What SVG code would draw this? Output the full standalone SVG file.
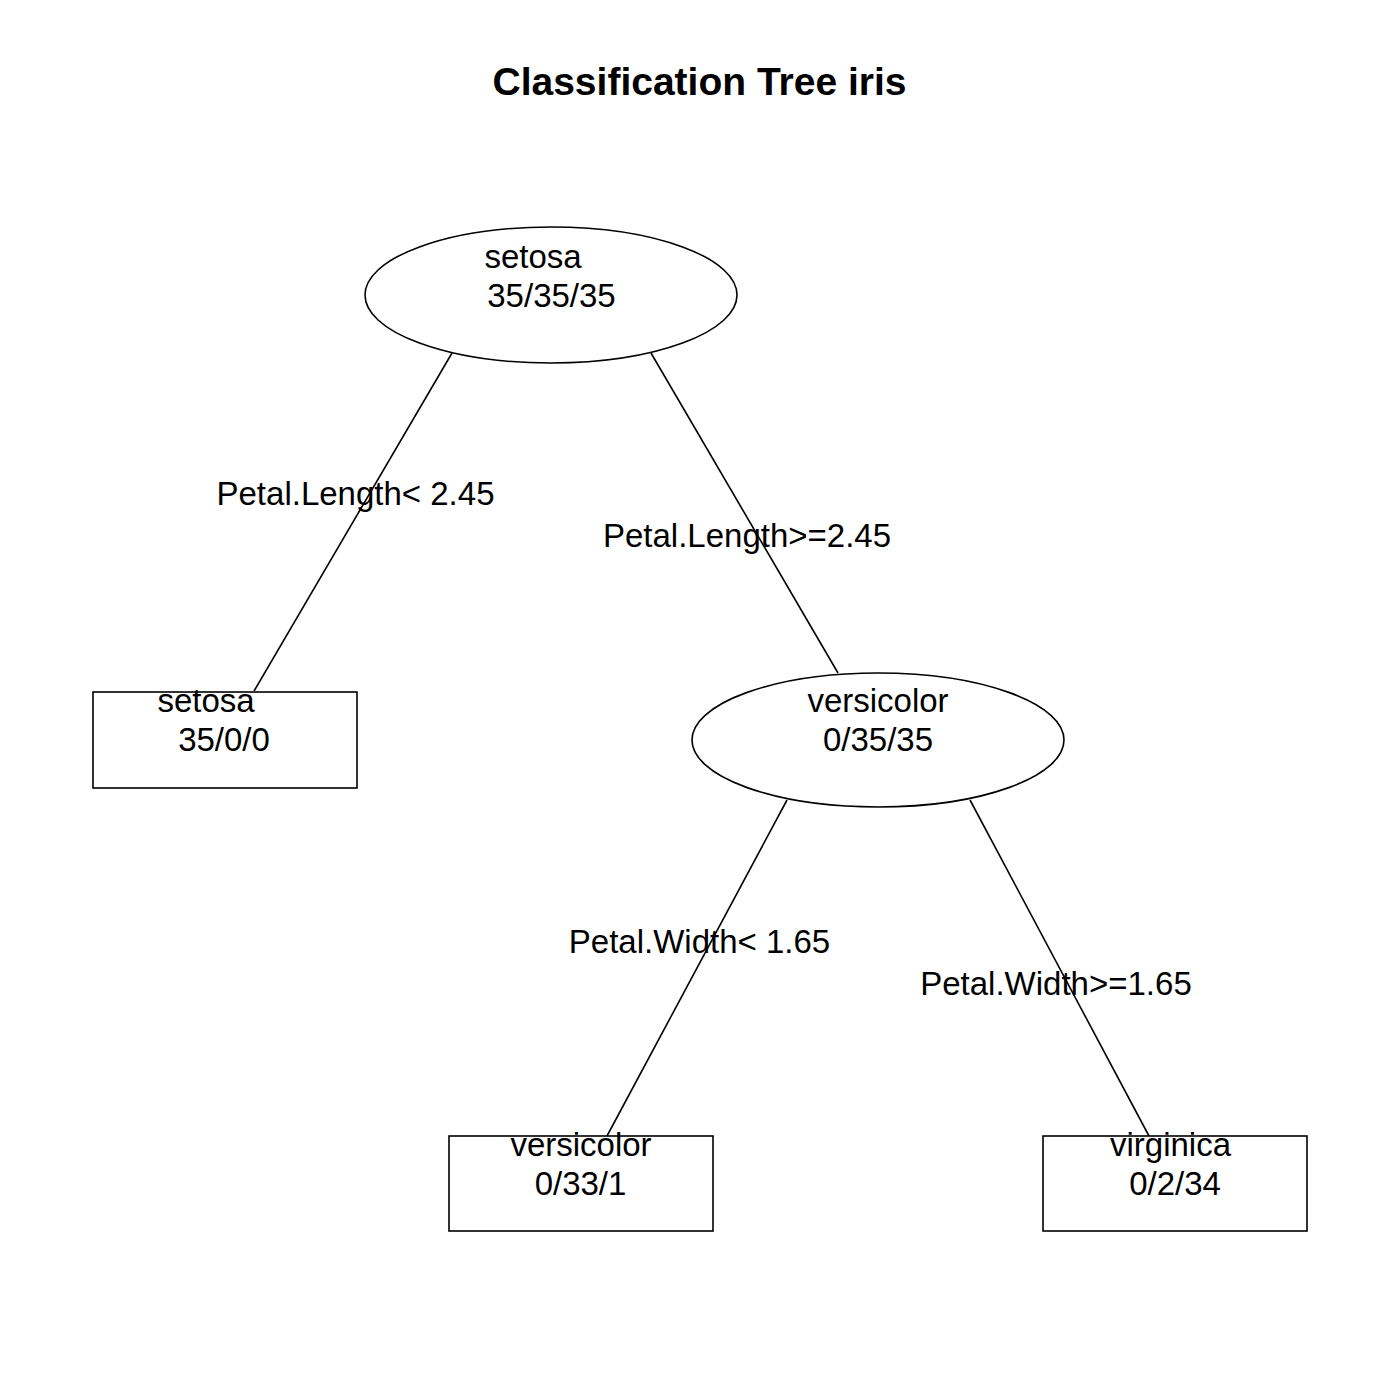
<svg xmlns="http://www.w3.org/2000/svg" width="1400" height="1400" viewBox="0 0 1400 1400">
<style>
.t{font-family:"Liberation Sans",Arial,sans-serif;font-size:33px;fill:#000;text-anchor:middle}
.title{font-family:"Liberation Sans",Arial,sans-serif;font-size:39px;font-weight:bold;fill:#000;text-anchor:middle}
.s{fill:none;stroke:#000;stroke-width:1.6}
</style>
<rect width="1400" height="1400" fill="#fff"/>
<text class="title" x="699.5" y="95">Classification Tree iris</text>
<g id="connectors">
<line class="s" x1="452" y1="353" x2="254" y2="691"/>
<line class="s" x1="651" y1="353" x2="838" y2="673"/>
<line class="s" x1="787" y1="800" x2="607" y2="1136"/>
<line class="s" x1="970" y1="800" x2="1149" y2="1136"/>
<text class="t" x="355.5" y="505">Petal.Length&lt; 2.45</text>
<text class="t" x="747" y="547">Petal.Length&gt;=2.45</text>
<text class="t" x="699.5" y="953">Petal.Width&lt; 1.65</text>
<text class="t" x="1056" y="995">Petal.Width&gt;=1.65</text>
</g>
<g id="node-root">
<ellipse class="s" cx="551" cy="295" rx="186" ry="68"/>
<text class="t" x="533" y="268">setosa</text>
<text class="t" x="551.5" y="307">35/35/35</text>
</g>
<g id="node-setosa">
<rect class="s" x="93" y="692" width="264" height="96"/>
<text class="t" x="206" y="712">setosa</text>
<text class="t" x="224" y="751">35/0/0</text>
</g>
<g id="node-versicolor-split">
<ellipse class="s" cx="878" cy="740" rx="186" ry="67"/>
<text class="t" x="878" y="712">versicolor</text>
<text class="t" x="878" y="751">0/35/35</text>
</g>
<g id="node-versicolor">
<rect class="s" x="449" y="1136" width="264" height="95"/>
<text class="t" x="581" y="1156">versicolor</text>
<text class="t" x="580.5" y="1195">0/33/1</text>
</g>
<g id="node-virginica">
<rect class="s" x="1043" y="1136" width="264" height="95"/>
<text class="t" x="1170.5" y="1156">virginica</text>
<text class="t" x="1175" y="1195">0/2/34</text>
</g>
</svg>
